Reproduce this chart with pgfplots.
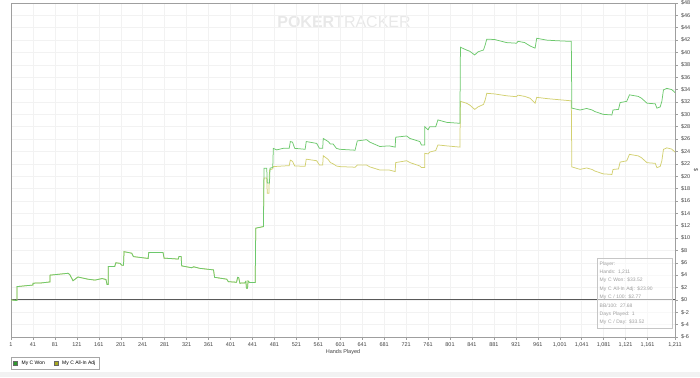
\documentclass[border=0pt]{standalone}
\usepackage{pgfplots}
\pgfplotsset{compat=1.18}
\usepackage{fontspec}
\setmainfont{Liberation Sans}
\definecolor{wonc}{HTML}{6CC86C}
\definecolor{adjc}{HTML}{D2D070}
\definecolor{wonleg}{HTML}{2E9A2E}
\definecolor{adjleg}{HTML}{A8A820}
\begin{document}
\begin{tikzpicture}[x=1pt,y=1pt]
\useasboundingbox (0,0) rectangle (700,377);
\fill[gray!10] (0,0) rectangle (700,5);
\node[text=gray!18, font=\fontsize{16}{16}\selectfont\bfseries, anchor=center] at (344,355) {POKER\mdseries TRACKER};
\begin{axis}[at={(11pt,40pt)}, anchor=south west, scale only axis, width=664pt, height=334pt,
 xmin=1, xmax=1211, ymin=-6, ymax=48,
 xtick={1,41,81,121,161,201,241,281,321,361,401,441,481,521,561,601,641,681,721,761,801,841,881,921,961,1001,1041,1081,1121,1161,1211},
 ytick={-6,-4,...,48},
 xtick pos=left, ytick pos=right, yticklabel pos=right,
 tick align=outside, major tick length=2.5pt,
 grid=major, major grid style={gray!10, line width=0.5pt},
 axis line style={gray!75, line width=0.7pt},
 tick style={gray!75, line width=0.5pt},
 tick label style={font=\fontsize{5.5}{6}\selectfont, text=black!75},
 yticklabel={\$\pgfmathprintnumber{\tick}},
 /pgf/number format/assume math mode=true,
 /pgf/number format/1000 sep={,},
 xlabel={Hands Played}, xlabel style={font=\fontsize{5.5}{6}\selectfont, text=black!75, yshift=5pt},
 legend style={at={(0,0)}, anchor=north west, yshift=-20pt, draw=gray!70, font=\fontsize{5}{6}\selectfont, legend columns=2, inner xsep=2pt, inner ysep=1.5pt, /tikz/every odd column/.append style={column sep=2pt}, /tikz/every even column/.append style={column sep=7pt}},
]
\draw[gray!70!black, line width=0.9pt] (axis cs:1,0) -- (axis cs:1211,0);
\addplot[adjc, line width=0.75pt, forget plot] coordinates {
(1,0) (10,-0.1) (12,-0.1) (12,2.15) (41,2.4) (41,2.7) (57,2.75) (72,2.9) (72,4.0) (105,4.3) (108,4.1) (114,3.1) (123,3.7) (141,3.35) (154,3.2) (167,3.45) (174,3.3) (176,2.5) (178,2.5) (178,5.4) (190,5.4) (192,6.0) (200,5.9) (203,5.6) (206,5.6) (207,7.8) (221,7.55) (224,7.0) (251,6.7) (252,7.65) (278,7.65) (280,6.75) (306,6.6) (307,7.0) (311,7.0) (312,5.5) (330,5.2) (334,5.35) (345,5.1) (370,4.85) (372,3.65) (394,3.35) (397,2.95) (412,2.85) (414,3.65) (416,3.6) (418,2.7) (427,2.75) (429,3.0) (430,1.9) (432,1.9) (433,3.05) (436,2.8) (446,2.8) (447,11.6) (461,11.85)
(462,19.7) (467,19.7) (468,17.25) (471,17.25) (472,21.0) (478,21.2) (479,21.55) (497,21.65) (508,21.7) (510,22.6) (514,22.4) (518,21.65) (537,21.6) (539,22.75) (558,22.5) (563,21.8) (569,21.8) (570,23.3) (579,22.7) (583,22.2) (588,22.0) (594,21.65) (600,21.55) (628,21.45) (632,21.8) (649,21.8) (655,21.5) (673,21.0) (690,21.0) (701,20.75) (702,22.2) (722,22.5) (728,22.2) (746,21.65) (749,21.4) (755,21.4) (755,23.7) (761,23.6) (764,23.9) (775,24.15) (779,25.05) (795,24.9) (819,24.7) (820,32.1) (831,31.8) (837,31.5) (846,30.8) (852,31.2) (862,31.6) (865,32.3) (868,33.4) (882,33.3) (904,33.0) (922,32.85) (925,33.1) (937,32.9) (947,32.6) (956,31.8) (959,32.75) (977,32.55) (995,32.4) (1020,32.2) (1022,32.2) (1023,21.5) (1038,21.1) (1050,21.33) (1060,21.08) (1065,20.83) (1080,20.38) (1096,20.28) (1098,21.08) (1108,21.18) (1111,22.28) (1123,22.48) (1128,23.53) (1144,23.28) (1150,22.98) (1160,22.18) (1175,22.08) (1178,21.38) (1184,21.58) (1187,22.48) (1190,24.33) (1196,24.58) (1205,24.38) (1211,23.90)
};
\addplot[wonc, line width=0.75pt, forget plot] coordinates {
(1,0) (10,-0.1) (12,-0.1) (12,2.15) (41,2.4) (41,2.7) (57,2.75) (72,2.9) (72,4.0) (105,4.3) (108,4.1) (114,3.1) (123,3.7) (141,3.35) (154,3.2) (167,3.45) (174,3.3) (176,2.5) (178,2.5) (178,5.4) (190,5.4) (192,6.0) (200,5.9) (203,5.6) (206,5.6) (207,7.8) (221,7.55) (224,7.0) (251,6.7) (252,7.65) (278,7.65) (280,6.75) (306,6.6) (307,7.0) (311,7.0) (312,5.5) (330,5.2) (334,5.35) (345,5.1) (370,4.85) (372,3.65) (394,3.35) (397,2.95) (412,2.85) (414,3.65) (416,3.6) (418,2.7) (427,2.75) (429,3.0) (430,1.9) (432,1.9) (433,3.05) (436,2.8) (446,2.8) (447,11.6) (461,11.85)
(462,21.3) (467,21.3) (468,18.9) (472,18.9) (473,21.3) (478,21.4) (479,24.5) (485,24.25) (497,24.5) (508,24.5) (510,25.6) (514,25.5) (518,24.5) (537,24.35) (539,25.6) (558,25.3) (563,24.5) (569,24.5) (570,26.1) (579,25.6) (583,25.2) (588,25.2) (594,24.5) (600,24.35) (628,24.2) (632,25.7) (649,25.9) (655,25.5) (673,24.8) (690,24.9) (701,24.7) (702,26.3) (722,26.5) (728,26.1) (746,25.6) (749,25.05) (755,25.05) (755,28.0) (761,27.5) (764,28.0) (775,28.0) (779,29.1) (795,28.7) (819,28.55) (820,40.85) (831,40.4) (837,40.2) (846,39.6) (852,40.1) (862,40.4) (865,41.2) (868,42.15) (882,42.1) (904,41.6) (922,41.5) (925,41.8) (937,41.6) (947,41.05) (956,40.7) (959,42.3) (977,42.0) (995,41.9) (1020,41.8) (1022,41.8) (1023,31.0) (1038,30.7) (1050,30.95) (1060,30.7) (1065,30.45) (1080,30.0) (1096,29.9) (1098,30.7) (1108,30.8) (1111,31.9) (1123,32.1) (1128,33.15) (1144,32.9) (1150,32.6) (1160,31.8) (1175,31.7) (1178,31.0) (1184,31.2) (1187,32.1) (1190,33.95) (1196,34.2) (1205,34.0) (1211,33.52)
};
\addlegendimage{legend image code/.code={\draw[black!60, fill=wonleg] (0pt,-2pt) rectangle (4pt,2pt);}}
\addlegendentry{My C Won}
\addlegendimage{legend image code/.code={\draw[black!60, fill=adjleg] (0pt,-2pt) rectangle (4pt,2pt);}}
\addlegendentry{My C All-In Adj}
\end{axis}
\node[rotate=-90, font=\fontsize{5.5}{6}\selectfont, text=black!75] at (696,207) {\$};
\node[draw=gray!45, fill=white, fill opacity=0.5, text opacity=1, text=gray!75, anchor=north west, minimum width=75pt, minimum height=70pt, inner xsep=2pt, inner ysep=2pt, align=left, text width=70pt, font=\fontsize{5}{8.4}\selectfont] at (597,119) {Player:\\Hands: 1,211\\My C Won: \$33.52\\My C All-In Adj: \$23.90\\My C / 100: \$2.77\\BB/100: 27.68\\Days Played: 1\\My C / Day: \$33.52};
\end{tikzpicture}
\end{document}
